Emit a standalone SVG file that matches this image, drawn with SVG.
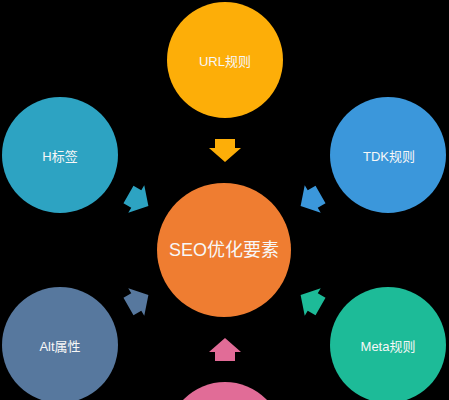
<svg xmlns="http://www.w3.org/2000/svg" width="449" height="400" viewBox="0 0 449 400">
  <style>
    .lbl { font-family: "Liberation Sans", "Noto Sans CJK SC", sans-serif; fill: #F7F7F7; text-anchor: middle; }
    .sm { font-size: 13px; }
    .lg { font-size: 18px; }
  </style>
  <defs>
    <path id="arr" d="M-10,-11 H10 V-2 H16 L0,12 L-16,-2 H-10 Z"/>
  </defs>
  <rect x="0" y="0" width="449" height="400" fill="#000000"/>
  <g id="connectors">
    <use href="#arr" fill="#FDAE08" transform="translate(225,150)"/>
    <use href="#arr" fill="#2DA3C2" transform="translate(138,200) rotate(-60)"/>
    <use href="#arr" fill="#3B97DB" transform="translate(311,200) rotate(60)"/>
    <use href="#arr" fill="#57789E" transform="translate(138,301) rotate(-120)"/>
    <use href="#arr" fill="#1DBB98" transform="translate(311,301) rotate(120)"/>
    <use href="#arr" fill="#E16C97" transform="translate(225,350) rotate(180)"/>
  </g>
  <g id="node-center">
    <circle cx="224" cy="250" r="67" fill="#EF7D31"/>
    <text class="lbl lg" x="224" y="256">SEO优化要素</text>
  </g>
  <g id="node-url">
    <circle cx="225" cy="60" r="58" fill="#FDAE08"/>
    <text class="lbl sm" x="225" y="66">URL规则</text>
  </g>
  <g id="node-h">
    <circle cx="60" cy="155" r="58" fill="#2DA3C2"/>
    <text class="lbl sm" x="60" y="161">H标签</text>
  </g>
  <g id="node-tdk">
    <circle cx="388" cy="155" r="58" fill="#3B97DB"/>
    <text class="lbl sm" x="389" y="161">TDK规则</text>
  </g>
  <g id="node-alt">
    <circle cx="60" cy="345" r="58" fill="#57789E"/>
    <text class="lbl sm" x="60" y="351">Alt属性</text>
  </g>
  <g id="node-meta">
    <circle cx="388" cy="345" r="58" fill="#1DBB98"/>
    <text class="lbl sm" x="388" y="351">Meta规则</text>
  </g>
  <g id="node-bottom">
    <circle cx="225" cy="440" r="58" fill="#E16C97"/>
  </g>
</svg>
